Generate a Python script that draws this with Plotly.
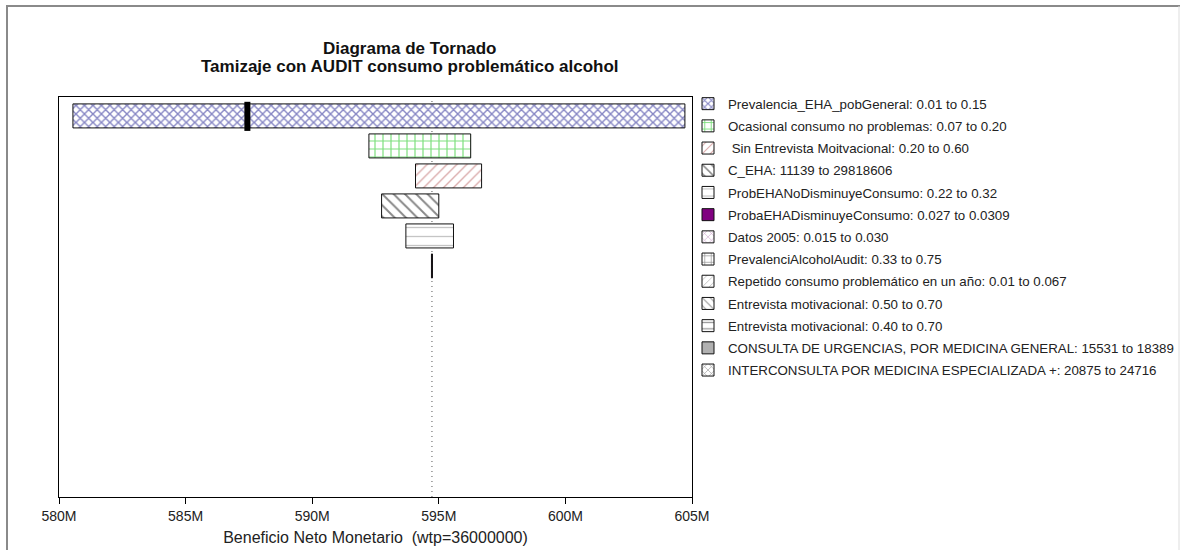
import plotly.graph_objects as go

# Tornado diagram: net monetary benefit range (millions) for each varied parameter
labels = [
    "Prevalencia_EHA_pobGeneral: 0.01 to 0.15",
    "Ocasional consumo no problemas: 0.07 to 0.20",
    " Sin Entrevista Moitvacional: 0.20 to 0.60",
    "C_EHA: 11139 to 29818606",
    "ProbEHANoDisminuyeConsumo: 0.22 to 0.32",
    "ProbaEHADisminuyeConsumo: 0.027 to 0.0309",
    "Datos 2005: 0.015 to 0.030",
    "PrevalenciAlcoholAudit: 0.33 to 0.75",
    "Repetido consumo problemático en un año: 0.01 to 0.067",
    "Entrevista motivacional: 0.50 to 0.70",
    "Entrevista motivacional: 0.40 to 0.70",
    "CONSULTA DE URGENCIAS, POR MEDICINA GENERAL: 15531 to 18389",
    "INTERCONSULTA POR MEDICINA ESPECIALIZADA +: 20875 to 24716",
]
nmb_low = [580.55, 592.24, 594.08, 592.74, 593.70, 594.71, 594.73,
           594.73, 594.73, 594.73, 594.73, 594.73, 594.73]
nmb_high = [604.72, 596.26, 596.69, 595.00, 595.58, 594.75, 594.73,
            594.73, 594.73, 594.73, 594.73, 594.73, 594.73]
base_value = 594.73      # expected value at base case
threshold_value = 587.44  # threshold marked on the first bar

# fill style per bar: (pattern shape, pattern colour, solid fill)
styles = [
    ("x", "#10108a", "white"),
    ("+", "#00c000", "white"),
    ("/", "#b85a5a", "white"),
    ("\\", "#111111", "white"),
    ("-", "#8c8c8c", "white"),
    ("", "#800080", "#800080"),
    ("x", "#a050a0", "white"),
    ("+", "#333333", "white"),
    ("/", "#888888", "white"),
    ("\\", "#333333", "white"),
    ("-", "#333333", "white"),
    ("", "#b0b0b0", "#b0b0b0"),
    ("x", "#333333", "white"),
]
pattern_sizes = [6, 8, 7, 8, 9, 8, 6, 8, 6, 7, 8, 8, 6]
pattern_solidity = [0.42, 0.28, 0.2, 0.24, 0.15, 0.2, 0.25, 0.22, 0.2, 0.2, 0.2, 0.2, 0.25]

FONT = "Liberation Sans, Arial, sans-serif"

L, R, T, B = 59, 692, 97, 497
W, H = 1180, 550
LEGEND_X = 688       # left edge of the legend column (px)
LEGEND_TOP = 104     # centre of the first legend row (px)
LEGEND_STEP = 22.2   # row spacing (px)
TITLE_X = 410        # horizontal centre of the title block (px)


def px(p):
    return (p - L) / (R - L)


def py(q):
    return (B - q) / (B - T)


fig = go.Figure()
legends = {}
for i, lab in enumerate(labels):
    shape, fg, fill = styles[i]
    span = nmb_high[i] - nmb_low[i]
    key = "legend" if i == 0 else f"legend{i + 1}"
    fig.add_trace(go.Bar(
        y=[i], x=[span], base=[nmb_low[i]], orientation="h",
        name=lab, legend=key,
        # rows with no spread collapse to nothing instead of a stray outline
        width=0.8 if span > 0 else 0,
        marker=dict(
            color=fill,
            line=dict(color="#111111", width=1),
            pattern=dict(shape=shape, fgcolor=fg, bgcolor=fill,
                         size=pattern_sizes[i], solidity=pattern_solidity[i]),
        ),
        hoverinfo="skip",
    ))
    legends[key] = dict(
        x=px(LEGEND_X), y=py(LEGEND_TOP + LEGEND_STEP * i), xanchor="left", yanchor="middle",
        font=dict(size=13.3, color="#222222", family=FONT),
        bgcolor="rgba(0,0,0,0)", borderwidth=0, itemclick=False, itemdoubleclick=False,
    )

# thick threshold marker on the widest bar
fig.add_trace(go.Scatter(
    x=[threshold_value, threshold_value], y=[-0.47, 0.5], mode="lines",
    line=dict(color="black", width=6), showlegend=False, hoverinfo="skip",
))

shapes = [
    # base-case reference line
    dict(type="line", xref="x", yref="paper", x0=base_value, x1=base_value,
         y0=0, y1=1, line=dict(color="#555555", width=1, dash="1px,4px"), layer="below"),
    # window frame
    dict(type="line", xref="paper", yref="paper", x0=px(6), x1=px(W), y0=py(6), y1=py(6),
         line=dict(color="#8a8a8a", width=2)),
    dict(type="line", xref="paper", yref="paper", x0=px(7), x1=px(7), y0=py(6), y1=py(W),
         line=dict(color="#8a8a8a", width=2)),
    dict(type="line", xref="paper", yref="paper", x0=px(1179), x1=px(1179), y0=py(6), y1=py(W),
         line=dict(color="#dddddd", width=1)),
]

fig.update_layout(
    width=W, height=H,
    margin=dict(l=L, r=W - R, t=T, b=H - B, autoexpand=False),
    paper_bgcolor="white", plot_bgcolor="white",
    barmode="overlay",
    font=dict(family=FONT, color="#222222", size=12),
    shapes=shapes,
    annotations=[
        dict(text="<b>Diagrama de Tornado</b>", xref="paper", yref="paper",
             x=px(TITLE_X), y=py(48.5), yanchor="middle", showarrow=False,
             font=dict(size=17, color="#111111")),
        dict(text="<b>Tamizaje con AUDIT consumo problemático alcohol</b>", xref="paper",
             yref="paper", x=px(TITLE_X), y=py(66.5), yanchor="middle", showarrow=False,
             font=dict(size=17, color="#111111")),
    ],
    xaxis=dict(
        range=[580, 605], dtick=5, tick0=580, ticksuffix="M",
        showgrid=False, zeroline=False,
        showline=True, mirror=True, linecolor="black", linewidth=1,
        ticks="outside", ticklen=6, tickcolor="black",
        tickfont=dict(size=14, color="#222222"),
        title=dict(text="Beneficio Neto Monetario  (wtp=36000000)",
                   font=dict(size=16, color="#222222"), standoff=9),
    ),
    yaxis=dict(
        range=[12.7, -0.63], showticklabels=False, showgrid=False, zeroline=False,
        showline=True, mirror=True, linecolor="black", linewidth=1, ticks="",
    ),
    **legends,
)

fig.write_html("out.html")
